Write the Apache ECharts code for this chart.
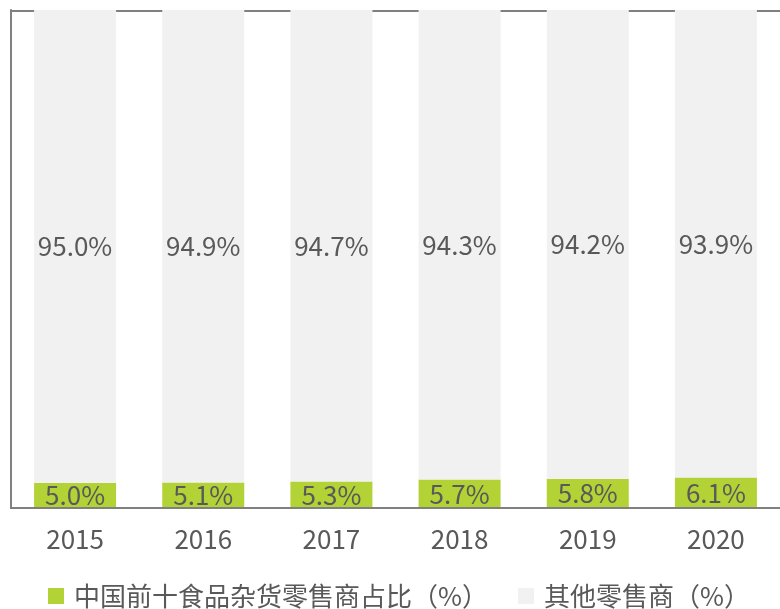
<!DOCTYPE html>
<html>
<head>
<meta charset="utf-8">
<script src="https://cdn.jsdelivr.net/npm/echarts@6/dist/echarts.min.js"></script>
<style>
  html, body { margin: 0; padding: 0; background: #fff; }
  #chart { width: 780px; height: 609px; }
</style>
</head>
<body>
<div id="chart"></div>
<script>
var years = ['2015', '2016', '2017', '2018', '2019', '2020'];
var topTen = [5.0, 5.1, 5.3, 5.7, 5.8, 6.1];
var others = [95.0, 94.9, 94.7, 94.3, 94.2, 93.9];
var names = ['中国前十食品杂货零售商占比（%）', '其他零售商（%）'];

var font = '"Noto Sans CJK SC", "Noto Sans", sans-serif';
var textColor = '#595959';
var lineStyle = { color: '#808080', width: 2 };

function pct(p) { return p.value.toFixed(1) + '%'; }

var chart = echarts.init(document.getElementById('chart'));
chart.setOption({
  animation: false,
  grid: { left: 11, top: 10, right: -5, bottom: 101 },
  legend: {
    data: names,
    left: 43,
    top: 578,
    itemWidth: 16,
    itemHeight: 16,
    itemGap: 30,
    icon: 'rect',
    textStyle: { fontSize: 26, color: textColor, fontFamily: font, lineHeight: 26, padding: [0, 0, 0, 5] }
  },
  xAxis: [
    {
      type: 'category',
      data: years,
      z: 5,
      axisLine: { show: true, lineStyle: lineStyle },
      axisTick: { show: false },
      axisLabel: { fontSize: 26, color: textColor, fontFamily: font, margin: 18 }
    },
    {
      // top frame line, sits under the bars
      type: 'category',
      data: years,
      position: 'top',
      offset: -1,
      z: 0,
      axisLine: { show: true, lineStyle: lineStyle },
      axisTick: { show: false },
      axisLabel: { show: false }
    }
  ],
  yAxis: {
    type: 'value',
    min: 0,
    max: 100,
    axisLine: { show: true, lineStyle: lineStyle },
    axisLabel: { show: false },
    axisTick: { show: false },
    splitLine: { show: false }
  },
  series: [
    {
      name: names[0],
      type: 'bar',
      stack: 'total',
      data: topTen,
      barWidth: 82,
      itemStyle: { color: '#b2d235' },
      label: { show: true, position: 'inside', fontSize: 26, color: textColor, fontFamily: font, formatter: pct }
    },
    {
      name: names[1],
      type: 'bar',
      stack: 'total',
      data: others,
      barWidth: 82,
      itemStyle: { color: '#f1f1f1' },
      label: { show: true, position: 'inside', fontSize: 26, color: textColor, fontFamily: font, formatter: pct }
    }
  ]
});
</script>
</body>
</html>
